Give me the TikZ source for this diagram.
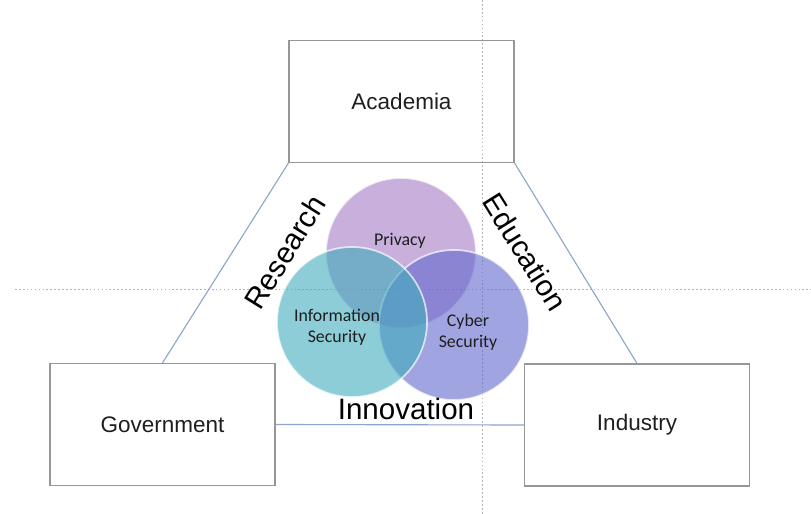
\documentclass[tikz,border=0pt]{standalone}
\usepackage{fontspec}
\setmainfont{Liberation Sans}
\newfontfamily\vennfont{Carlito}
\usepackage{tikz}
\usepackage{xcolor}

\definecolor{boxgray}{RGB}{150,150,150}
\definecolor{linkblue}{RGB}{140,165,205}
\definecolor{guidegray}{RGB}{180,180,180}
\definecolor{privcol}{RGB}{163,122,197}
\definecolor{cybercol}{RGB}{97,105,205}
\definecolor{infocol}{RGB}{63,172,188}
\definecolor{inkcol}{RGB}{30,30,30}

\begin{document}
\begin{tikzpicture}[x=0.025cm, y=-0.025cm,
  party/.style={draw=boxgray, line width=0.8pt, minimum width=5.625cm, minimum height=3.05cm, text=inkcol, font=\fontsize{16}{19}\selectfont},
  link/.style={draw=linkblue, line width=0.8pt},
  venn/.style={circle, minimum size=3.75cm, fill opacity=0.6, draw=white, draw opacity=0.7, line width=1.2pt},
  vennlabel/.style={align=center, text=inkcol, font=\vennfont\fontsize{12.7}{15}\selectfont},
  theme/.style={text=black, font=\fontsize{21}{25}\selectfont}]
\useasboundingbox (0,0) rectangle (811,514);

% Guides
\draw[guidegray, line width=0.5pt, dash pattern=on 1.2pt off 1.6pt] (15,289) -- (811,289);
\draw[guidegray, line width=0.5pt, dash pattern=on 1.2pt off 1.6pt] (482,0) -- (482,514);

% Stakeholders
\node[party] (acad) at (401.5,101.5) {Academia};
\node[party] (gov) at (162.5,424.5) {Government};
\node[party] (ind) at (637,425) {Industry};

% Links
\draw[link] (acad.south west) -- (gov.north);
\draw[link] (acad.south east) -- (ind.north);
\draw[link] (gov.east) -- (ind.west);

% Venn circles
\node[venn, fill=privcol] (priv) at (401,253) {};
\node[venn, fill=cybercol] (cyber) at (454,325) {};
\node[venn, fill=infocol] (info) at (352,322) {};

\node[vennlabel] (privtext) at (400,241) {Privacy};
\node[vennlabel] (infotext) at (337,327) {Information\\Security};
\node[vennlabel] (cybertext) at (468,332) {Cyber\\Security};

% Themes
\node[theme, rotate=58] (research) at (285,252) {Research};
\node[theme, rotate=-58] (education) at (525,252) {Education};
\node[theme] (innovation) at (406,409) {Innovation};
\end{tikzpicture}
\end{document}
